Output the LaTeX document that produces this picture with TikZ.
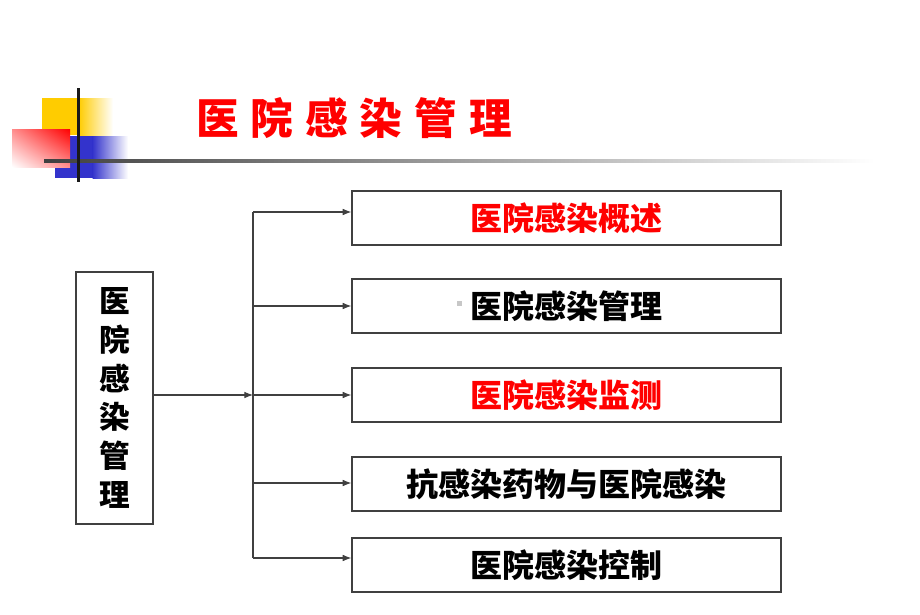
\documentclass[tikz,border=0pt]{standalone}
\usepackage{fontspec}
\newfontfamily\cjk{Noto Sans CJK SC}
\newfontfamily\cjkblack{Noto Sans CJK SC Black}
\usetikzlibrary{arrows.meta,shadings}
\definecolor{ylw}{HTML}{FFCC00}
\definecolor{blu}{HTML}{3333CC}
\definecolor{edge}{HTML}{404040}
\definecolor{tred}{HTML}{FF0000}
\tikzset{
  box/.style={draw=edge, line width=0.9pt, inner sep=0pt, minimum width=321.75pt, minimum height=40.5pt, font=\cjk\bfseries\fontsize{24pt}{28pt}\selectfont},
  vbox/.style={draw=edge, line width=0.9pt, inner sep=0pt, minimum width=57.75pt, minimum height=189pt, align=center, font=\cjk\bfseries\fontsize{23pt}{29pt}\selectfont},
  conn/.style={draw=edge, line width=0.8pt},
  arr/.style={conn, -{Latex[length=6.5pt,width=5pt]}}
}
\begin{document}
\begin{tikzpicture}[x=0.75pt,y=-0.75pt]
\useasboundingbox (0,0) rectangle (920,614);
% decoration
\fill[ylw] (42,98) rectangle (79,135);
\shade[left color=ylw, right color=white] (78.5,98) rectangle (113,135);
\fill[blu] (55,136) rectangle (93,178);
\shade[left color=blu, right color=white] (92.5,136) rectangle (128,178);
\shade[upper right=tred, upper left=tred!45, lower right=tred!45, lower left=white] (12,129) rectangle (70,167);
\shade[left color=black!75, right color=white] (44,159.5) rectangle (875,162.5);
\fill[black!90] (76.5,88) rectangle (79.5,182);
% title
\node[text=tred, font=\cjkblack\fontsize{32pt}{36pt}\selectfont, inner sep=0pt] (title) at (354,118)
  {医\kern9pt 院\kern9pt 感\kern9pt 染\kern9pt 管\kern9pt 理};
% left box
\node[vbox] (left) at (114.5,398) {医\\院\\感\\染\\管\\理};
% right boxes
\node[box, text=tred] (b1) at (566.5,218) {医院感染概述};
\node[box] (b2) at (566.5,306) {医院感染管理};
\node[box, text=tred] (b3) at (566.5,395) {医院感染监测};
\node[box] (b4) at (566.5,484) {抗感染药物与医院感染};
\node[box] (b5) at (566.5,565) {医院感染控制};
\fill[black!22] (457,301) rectangle (462,306);
% connectors
\coordinate (j) at (253,395);
\coordinate (t1) at (253,212);
\coordinate (t2) at (253,306);
\coordinate (t4) at (253,483);
\coordinate (t5) at (253,558);
\draw[arr] (left.east |- j) -- (j);
\draw[conn] (t1) -- (t5);
\draw[arr] (t1) -- (t1 -| b1.west);
\draw[arr] (t2) -- (t2 -| b2.west);
\draw[arr] (j) -- (j -| b3.west);
\draw[arr] (t4) -- (t4 -| b4.west);
\draw[arr] (t5) -- (t5 -| b5.west);
\end{tikzpicture}
\end{document}
